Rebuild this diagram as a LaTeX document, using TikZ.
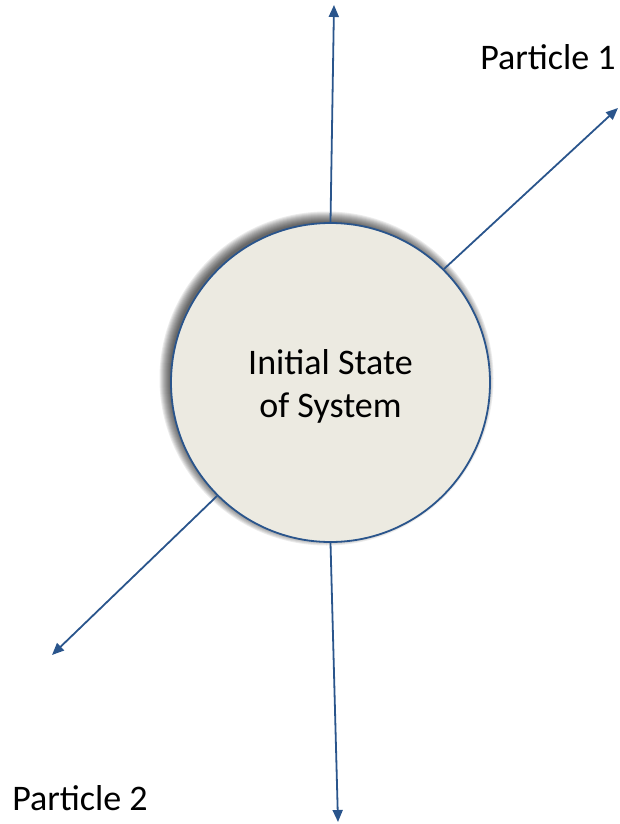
\documentclass[tikz,border=0pt]{standalone}
\usepackage{fontspec}
\setmainfont{Carlito}
\usetikzlibrary{arrows.meta,calc}
\definecolor{linkblue}{HTML}{2A558C}
\definecolor{statefill}{HTML}{ECEAE1}
\tikzset{
  flow/.style={draw=linkblue, line width=1.8pt, -{Triangle[length=12pt,width=10pt]}},
  statebox/.style={circle, draw=linkblue, line width=1.8pt, fill=statefill,
    minimum size=319pt, inner sep=0pt},
  label/.style={font=\fontsize{36}{43}\selectfont, inner sep=0pt, align=center}
}
\begin{document}
\begin{tikzpicture}[x=1pt,y=-1pt]
  \useasboundingbox (0,0) rectangle (619,824);
  \coordinate (c) at (330.5,382.5);
  % soft shadow, offset up and to the left
  \foreach \i in {0,...,10}{
    \fill[black, opacity=0.08] ($(c)+(-4,-4)$) circle[radius={167pt-\i pt}];
  }
  \node[statebox] (sys) at (c) {};
  \node[label] (txt) at ($(c)+(0,4)$) {Initial State\\of System};
  % outgoing tracks
  \coordinate (tn) at (334,5);
  \coordinate (tne) at (618,108);
  \coordinate (tsw) at (52,655);
  \coordinate (ts) at (338,822);
  \draw[flow] (sys.90) -- (tn);
  \draw[flow] (sys.45) -- (tne);
  \draw[flow] (sys.225) -- (tsw);
  \draw[flow] (sys.270) -- (ts);
  \node[label] (p1) at (548,57) {Particle 1};
  \node[label] (p2) at (80,798) {Particle 2};
\end{tikzpicture}
\end{document}
